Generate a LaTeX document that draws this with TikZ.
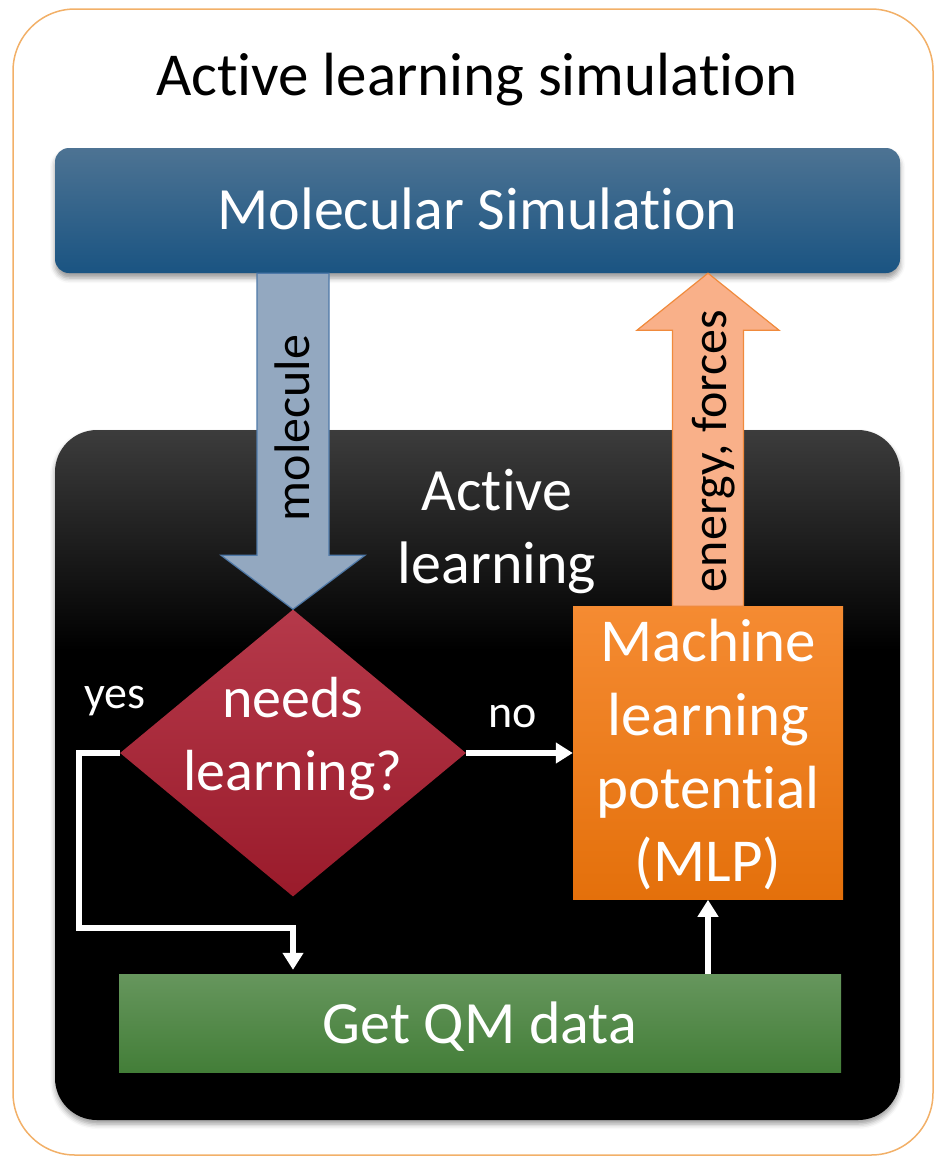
\documentclass[tikz,border=0pt]{standalone}
\usepackage{fontspec}
\setmainfont{Carlito}[Ligatures=NoCommon]
\usetikzlibrary{shapes.geometric,arrows.meta,calc,shadows.blur}
\newcommand\nolig{\kern0pt\relax}

\definecolor{outerc}{HTML}{F2B068}
\definecolor{msTop}{HTML}{4D7393}
\definecolor{msBot}{HTML}{1A5482}
\definecolor{alTop}{HTML}{3C3C3C}
\definecolor{barFill}{HTML}{93A8C0}
\definecolor{barDraw}{HTML}{4F79A8}
\definecolor{enFill}{HTML}{F9B089}
\definecolor{enDraw}{HTML}{F08A3C}
\definecolor{dTop}{HTML}{B5394A}
\definecolor{dBot}{HTML}{9A1B2B}
\definecolor{oTop}{HTML}{F58B32}
\definecolor{oBot}{HTML}{E4700B}
\definecolor{gTop}{HTML}{66965D}
\definecolor{gBot}{HTML}{437E38}

\pgfdeclareverticalshading{alshade}{100bp}{color(0bp)=(black); color(25bp)=(black);
  color(59bp)=(black); color(75bp)=(alTop); color(100bp)=(alTop)}

\begin{document}
\begin{tikzpicture}[x=1pt,y=1pt,
  boxtext/.style={text=white, font=\fontsize{60}{73}\selectfont},
  smalltext/.style={text=white, font=\fontsize{46}{55}\selectfont, anchor=base},
  arrowtext/.style={text=black, font=\fontsize{50}{60}\selectfont, rotate=90, anchor=base},
  conn/.style={draw=white, line width=5.5pt, -{Triangle[width=20pt,length=17pt]}},
  blockarrow/.style={line width=1.2pt, line join=miter},
]
\useasboundingbox (0,0) rectangle (935,-1157);

% outer frame
\node[draw=outerc, line width=1.5pt, rounded corners=62pt, minimum width=920pt,
      minimum height=1146pt, inner sep=0pt] (outer) at (473,-582) {};

\node[anchor=base, font=\fontsize{61}{72}\selectfont] (title) at (477,-95) {Active learning simulat\nolig ion};

% active learning panel
\node[rounded corners=42pt, shading=alshade,
      minimum width=845pt, minimum height=690pt, inner sep=0pt,
      blur shadow={shadow xshift=0pt, shadow yshift=-4pt, shadow blur radius=5pt}] (al) at (477.5,-775) {};

% molecular simulation bar
\node[rounded corners=14pt, top color=msTop, bottom color=msBot, minimum width=845pt,
      minimum height=125pt, inner sep=0pt,
      blur shadow={shadow xshift=0pt, shadow yshift=-5pt, shadow blur radius=5pt},
      boxtext, text height=45pt, text depth=7pt] (ms) at (477.5,-210.5) {Molecular Simulat\nolig ion};

\node[boxtext] (altext) at (497,-532) {\begin{tabular}{@{}c@{}}Active\\learning\end{tabular}};

% diamond
\node[diamond, minimum width=346pt, minimum height=287pt, inner sep=0pt,
      top color=dTop, bottom color=dBot] (nl) at (293,-753) {};
\node[boxtext, font=\fontsize{58}{73}\selectfont] (nltext) at (293,-739)
  {\begin{tabular}{@{}c@{}}needs\\learning?\end{tabular}};

% MLP box
\node[minimum width=270pt, minimum height=286pt, inner sep=0pt, top color=oTop, bottom color=oBot,
      boxtext, font=\fontsize{61}{73.3}\selectfont] (mlp) at (708,-753)
  {\raisebox{-4pt}[\height][\depth]{\begin{tabular}{@{}c@{}}Machine\\learning\\potent\nolig ial\\(MLP)\end{tabular}}};

% QM box
\node[minimum width=722pt, minimum height=98pt, inner sep=0pt, top color=gTop, bottom color=gBot,
      boxtext, text height=46pt, text depth=6pt] (qm) at (480,-1023) {Get QM data};

% molecule block arrow
\coordinate (mtip) at (nl.north);
\coordinate (mbase) at (ms.south -| nl.north);
\draw[blockarrow, fill=barFill, draw=barDraw]
  ($(mbase)+(-36,0)$) -- ($(mbase)+(36,0)$) -- ($(mtip)+(36,54)$) -- ($(mtip)+(72,54)$)
  -- (mtip) -- ($(mtip)+(-72,54)$) -- ($(mtip)+(-36,54)$) -- cycle;
\node[arrowtext] (moltext) at (309,-428) {molecule};

% energy, forces block arrow
\coordinate (etip) at (ms.south -| mlp.north);
\coordinate (ebase) at (mlp.north);
\draw[blockarrow, fill=enFill, draw=enDraw]
  ($(ebase)+(-35.5,0)$) -- ($(ebase)+(35.5,0)$) -- ($(etip)+(35.5,-57)$) -- ($(etip)+(71,-57)$)
  -- (etip) -- ($(etip)+(-71,-57)$) -- ($(etip)+(-35.5,-57)$) -- cycle;
\node[arrowtext] (entext) at (726,-451) {energy, forces};

% connectors
\draw[conn] (nl.east) -- (mlp.west);
\node[smalltext] (no) at (513,-727) {no};

\coordinate (yesend) at (qm.north -| nl.south);
\draw[conn] (nl.west) -- ++(-41,0) |- ($(yesend)+(0,46)$) -- ($(yesend)+(0,4)$);
\node[smalltext] (yes) at (115,-708) {yes};

\coordinate (qmout) at (qm.north -| mlp.south);
\draw[conn] (qmout) -- (mlp.south);
\end{tikzpicture}
\end{document}
